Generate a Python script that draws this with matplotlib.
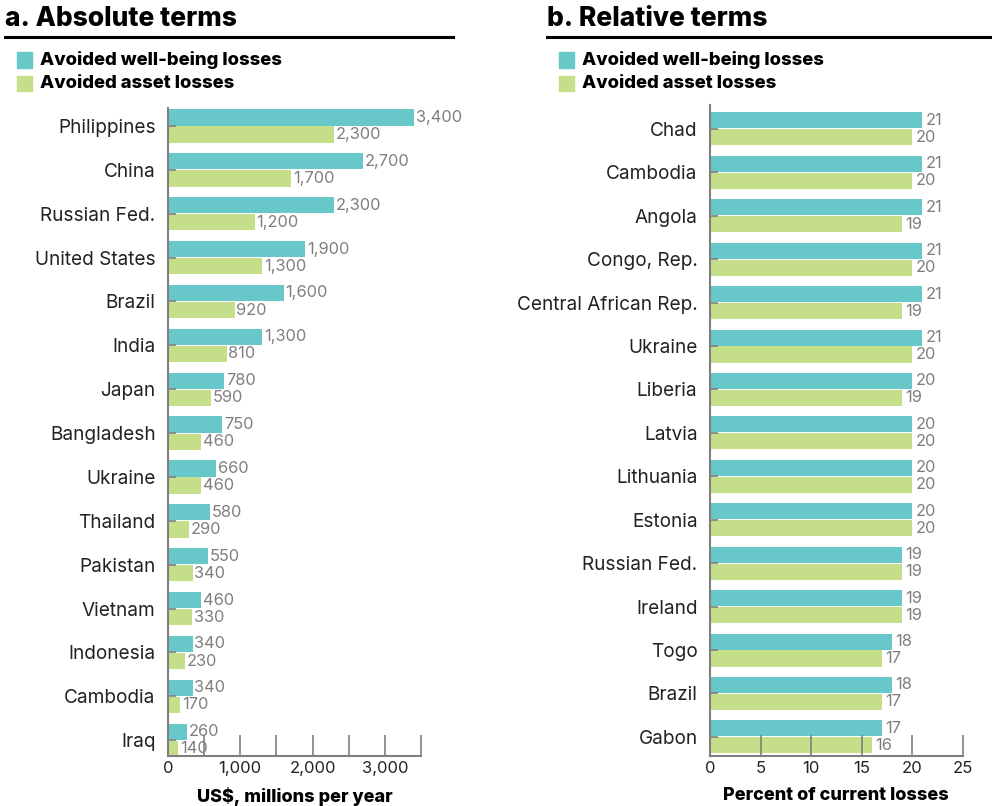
import matplotlib
matplotlib.use("Agg")
import matplotlib.pyplot as plt
from matplotlib.patches import Rectangle
from matplotlib.lines import Line2D

plt.rcParams['font.family'] = ['Inter', 'DejaVu Sans']

# panel a: absolute terms (US$ millions per year)
abs_countries = ["Philippines", "China", "Russian Fed.", "United States", "Brazil", "India",
                 "Japan", "Bangladesh", "Ukraine", "Thailand", "Pakistan", "Vietnam",
                 "Indonesia", "Cambodia", "Iraq"]
abs_wellbeing = [3400, 2700, 2300, 1900, 1600, 1300, 780, 750, 660, 580, 550, 460, 340, 340, 260]
abs_asset = [2300, 1700, 1200, 1300, 920, 810, 590, 460, 460, 290, 340, 330, 230, 170, 140]

# panel b: relative terms (percent of current losses)
rel_countries = ["Chad", "Cambodia", "Angola", "Congo, Rep.", "Central African Rep.", "Ukraine",
                 "Liberia", "Latvia", "Lithuania", "Estonia", "Russian Fed.", "Ireland",
                 "Togo", "Brazil", "Gabon"]
rel_wellbeing = [21, 21, 21, 21, 21, 21, 20, 20, 20, 20, 19, 19, 18, 18, 17]
rel_asset = [20, 20, 19, 20, 19, 20, 19, 20, 20, 20, 19, 19, 17, 17, 16]

TEAL = "#68C8C9"
GREEN = "#C5DE89"
GREY = "#7f7f7f"
DARK = "#222222"

fig = plt.figure(figsize=(9.92, 8.06), dpi=100)


def px(x, y):
    return x / 992, 1 - y / 806


def panel(rect, cats, wb, asset, xmax, xticks, minor, fmt, xlabel, ylim, off):
    ax = fig.add_axes(rect)
    h = 0.37
    pos = list(range(len(cats)))
    ax.barh([p - h / 2 - 0.01 for p in pos], wb, height=h, color=TEAL)
    ax.barh([p + h / 2 + 0.01 for p in pos], asset, height=h, color=GREEN)
    for p, a, b in zip(pos, wb, asset):
        ax.text(a + off, p - h / 2 - 0.01, fmt(a), va="center", ha="left", fontsize=11.8, color=GREY)
        ax.text(b + off, p + h / 2 + 0.01, fmt(b), va="center", ha="left", fontsize=11.8, color=GREY)
    ax.set_ylim(*ylim)
    ax.set_xlim(0, xmax)
    ax.set_yticks(pos)
    ax.set_yticklabels(cats, fontsize=13.7, color=DARK)
    ax.tick_params(axis="y", direction="in", length=6, width=1.2, color=GREY, pad=9)
    ax.set_xticks(minor, minor=True)
    ax.set_xticks(xticks)
    ax.set_xticklabels([fmt(t) for t in xticks], fontsize=12, color=DARK)
    ax.tick_params(axis="x", which="both", direction="in", length=15, width=1.2, color=GREY)
    for s in ["top", "right"]:
        ax.spines[s].set_visible(False)
    for s in ["left", "bottom"]:
        ax.spines[s].set_color(GREY)
        ax.spines[s].set_linewidth(1.5)
    ax.set_xlabel(xlabel, fontsize=13, fontweight="heavy", color="black", labelpad=8)
    return ax


def header(x0, x1, title):
    fx, fy = px(x0, 19)
    fig.text(fx, fy, title, fontsize=19, fontweight="heavy", va="center", ha="left")
    a, b = px(x0, 37)
    c, _ = px(x1, 37)
    fig.add_artist(Line2D([a, c], [b, b], color="black", lw=2.2, transform=fig.transFigure))
    for i, (col, lab) in enumerate([(TEAL, "Avoided well-being losses"), (GREEN, "Avoided asset losses")]):
        yc = 60 + i * 23
        rx, ry = px(x0 + 12, yc + 7.5)
        fig.add_artist(Rectangle((rx, ry), 15 / 992, 15 / 806, color=col, transform=fig.transFigure))
        tx, ty = px(x0 + 35, yc)
        fig.text(tx, ty, lab, fontsize=13.3, fontweight="heavy", va="center", ha="left")


header(5, 453, "a. Absolute terms")
header(547, 992, "b. Relative terms")

l, b = px(168, 756)
_, t = px(168, 108)
panel([l, b, 253 / 992, t - b], abs_countries, abs_wellbeing, abs_asset, 3500,
      [0, 1000, 2000, 3000], [500, 1500, 2500, 3500], lambda v: f"{v:,.0f}",
      "US$, millions per year", (14.36, -0.41), 25)

l, b = px(710, 756)
_, t = px(710, 105)
panel([l, b, 252.7 / 992, t - b], rel_countries, rel_wellbeing, rel_asset, 25,
      [0, 5, 10, 15, 20, 25], [], lambda v: f"{v:.0f}",
      "Percent of current losses", (14.44, -0.55), 0.35)

fig.savefig("out.png", dpi=100)
